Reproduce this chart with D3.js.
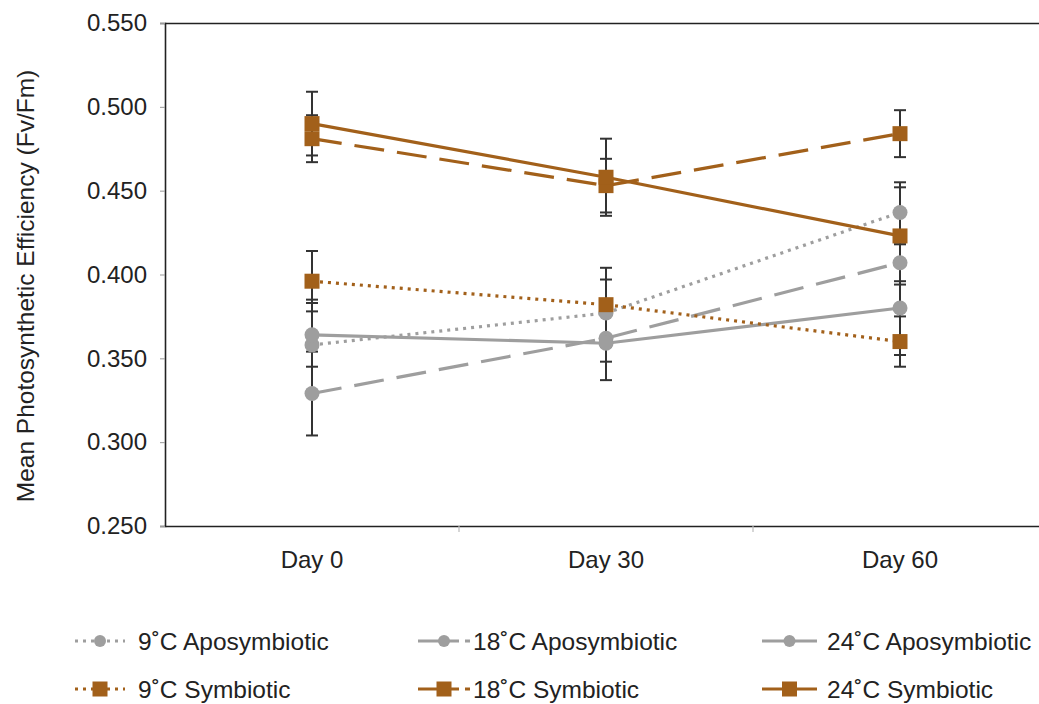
<!DOCTYPE html>
<html>
<head>
<meta charset="utf-8">
<script src="https://cdn.jsdelivr.net/npm/d3@7"></script>
<style>
  html, body { margin: 0; padding: 0; background: #fff; }
  svg { display: block; font-family: "Liberation Sans", Arial, Helvetica, sans-serif; }
</style>
</head>
<body>
<svg id="chart" width="1039" height="704"></svg>
<script>
// Sampling days
const days = ["Day 0", "Day 30", "Day 60"];
const yTicks = [0.25, 0.30, 0.35, 0.40, 0.45, 0.50, 0.55];

// Mean Fv/Fm per group, and the error (+/-) at each day
const apo9  = [0.358, 0.377, 0.437];
const apo18 = [0.329, 0.362, 0.407];
const apo24 = [0.364, 0.359, 0.380];
const sym9  = [0.396, 0.382, 0.360];
const sym18 = [0.481, 0.453, 0.484];
const sym24 = [0.490, 0.458, 0.423];

const apo9Err  = [0.027, 0.020, 0.018];
const apo18Err = [0.025, 0.014, 0.011];
const apo24Err = [0.019, 0.022, 0.028];
const sym9Err  = [0.018, 0.022, 0.015];
const sym18Err = [0.014, 0.016, 0.014];
const sym24Err = [0.019, 0.023, 0.029];

const seriesNames = ["9˚C Aposymbiotic", "18˚C Aposymbiotic", "24˚C Aposymbiotic",
                     "9˚C Symbiotic", "18˚C Symbiotic", "24˚C Symbiotic"];

const GREY = "#9e9e9e";
const BROWN = "#a2601a";
const FONT = 24;
const LEGEND_FONT = 24.5;

const series = [
  { name: seriesNames[0], values: apo9,  err: apo9Err,  color: GREY,  dash: "3,5",   shape: "circle" },
  { name: seriesNames[1], values: apo18, err: apo18Err, color: GREY,  dash: "30,13", shape: "circle" },
  { name: seriesNames[2], values: apo24, err: apo24Err, color: GREY,  dash: null,    shape: "circle" },
  { name: seriesNames[3], values: sym9,  err: sym9Err,  color: BROWN, dash: "3,5",   shape: "square" },
  { name: seriesNames[4], values: sym18, err: sym18Err, color: BROWN, dash: "30,13", shape: "square" },
  { name: seriesNames[5], values: sym24, err: sym24Err, color: BROWN, dash: null,    shape: "square" }
];

const svg = d3.select("#chart");
const plotLeft = 165, plotTop = 23, plotBottom = 526, plotRight = 1047;

const x = d3.scaleBand().domain(days).range([plotLeft, plotRight]);
const cx = d => x(d) + x.bandwidth() / 2;
const y = d3.scaleLinear().domain([0.25, 0.55]).range([plotBottom, plotTop]);

// Top frame line
svg.append("line")
  .attr("x1", plotLeft).attr("x2", 1039).attr("y1", plotTop + 0.5).attr("y2", plotTop + 0.5)
  .attr("stroke", "#222").attr("stroke-width", 1.3);

// Y axis
const yAxis = svg.append("g")
  .attr("transform", `translate(${plotLeft},0)`)
  .call(d3.axisLeft(y).tickValues(yTicks).tickFormat(d3.format(".3f")).tickSize(5).tickPadding(13));
yAxis.select(".domain").attr("stroke", "#222").attr("stroke-width", 1.6);
yAxis.selectAll(".tick line").attr("stroke", "#999");
yAxis.selectAll(".tick text").attr("font-size", FONT).attr("fill", "#222")
  .attr("font-family", "Liberation Sans, Arial, sans-serif");

// X axis with ticks between categories
const xAxis = svg.append("g")
  .attr("transform", `translate(0,${plotBottom})`)
  .call(d3.axisBottom(x).tickSize(0).tickPadding(25));
xAxis.select(".domain").attr("stroke", "#222").attr("stroke-width", 1.6);
xAxis.selectAll(".tick text").attr("font-size", FONT).attr("fill", "#222")
  .attr("font-family", "Liberation Sans, Arial, sans-serif");
xAxis.selectAll(".sep")
  .data(days.slice(1))
  .enter().append("line")
  .attr("class", "sep")
  .attr("x1", d => x(d)).attr("x2", d => x(d))
  .attr("y1", 0).attr("y2", 6)
  .attr("stroke", "#bbb").attr("stroke-width", 1.2);

// Y axis title
svg.append("text")
  .attr("transform", `translate(25,286) rotate(-90)`)
  .attr("text-anchor", "middle")
  .attr("dy", "0.35em")
  .attr("font-size", LEGEND_FONT).attr("fill", "#222")
  .text("Mean Photosynthetic Efficiency (Fv/Fm)");

const line = d3.line().x((v, i) => cx(days[i])).y(v => y(v));

// Series lines
series.forEach(s => {
  svg.append("path")
    .attr("d", line(s.values))
    .attr("fill", "none")
    .attr("stroke", s.color)
    .attr("stroke-width", 3.2)
    .attr("stroke-dasharray", s.dash);
});

// Error bars
series.forEach(s => {
  const g = svg.append("g").attr("stroke", "#333").attr("stroke-width", 2);
  s.values.forEach((v, i) => {
    const xc = cx(days[i]);
    const hi = y(v + s.err[i]), lo = y(v - s.err[i]);
    g.append("line").attr("x1", xc).attr("x2", xc).attr("y1", hi).attr("y2", lo);
    g.append("line").attr("x1", xc - 6).attr("x2", xc + 6).attr("y1", hi).attr("y2", hi);
    g.append("line").attr("x1", xc - 6).attr("x2", xc + 6).attr("y1", lo).attr("y2", lo);
  });
});

function marker(g, shape, color, xc, yc, size) {
  if (shape === "circle") {
    g.append("circle").attr("cx", xc).attr("cy", yc).attr("r", size / 2).attr("fill", color);
  } else {
    g.append("rect").attr("x", xc - size / 2).attr("y", yc - size / 2)
      .attr("width", size).attr("height", size).attr("fill", color);
  }
}

// Markers
series.forEach(s => {
  const g = svg.append("g");
  s.values.forEach((v, i) => marker(g, s.shape, s.color, cx(days[i]), y(v), 15));
});

// Legend: three columns, two rows
const legendCols = [
  { x0: 75,  len: 50, text: 138, dash: "3,5" },
  { x0: 418, len: 52, text: 473, dash: "41,6" },
  { x0: 762, len: 55, text: 827, dash: null }
];
const rowY = [641, 689];
series.forEach((s, k) => {
  const c = legendCols[k % 3], yc = rowY[Math.floor(k / 3)];
  const g = svg.append("g");
  g.append("line")
    .attr("x1", c.x0).attr("x2", c.x0 + c.len).attr("y1", yc).attr("y2", yc)
    .attr("stroke", s.color).attr("stroke-width", 3)
    .attr("stroke-dasharray", c.dash);
  marker(g, s.shape, s.color, c.x0 + c.len / 2, yc, s.shape === "circle" ? 12 : 15);
  g.append("text")
    .attr("x", c.text).attr("y", yc).attr("dy", "0.36em")
    .attr("font-size", LEGEND_FONT).attr("fill", "#222")
    .text(s.name);
});
</script>
</body>
</html>
